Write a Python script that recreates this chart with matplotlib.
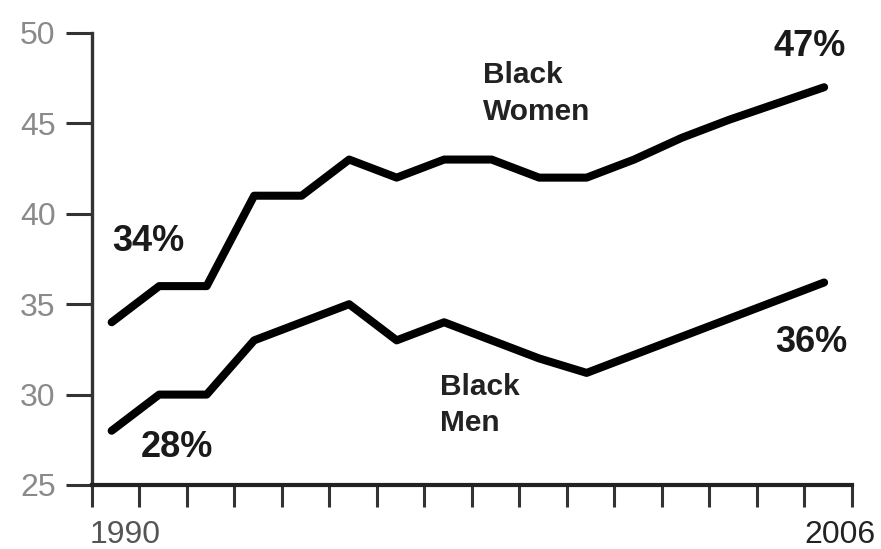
import matplotlib.pyplot as plt

# values, one point per year step
women = [34, 36, 36, 41, 41, 43, 42, 43, 43, 42, 42, 43, 44.2, 45.2, 46.1, 47]
men = [28, 30, 30, 33, 34, 35, 33, 34, 33, 32, 31.2, 32.2, 33.2, 34.2, 35.2, 36.2]
x = list(range(len(women)))

y_ticks = [25, 30, 35, 40, 45, 50]
n_xticks = 17
x_offset = 0.42  # tick marks sit a bit left of the data points

plt.rcParams['font.family'] = ['Liberation Sans', 'DejaVu Sans']

fig = plt.figure(figsize=(8.81, 5.49), dpi=100)
ax = fig.add_axes([0.1041, 0.1166, 0.8626, 0.8233])

ax.plot(x, women, color='black', lw=5.8, solid_joinstyle='round', solid_capstyle='round')
ax.plot(x, men, color='black', lw=5.8, solid_joinstyle='round', solid_capstyle='round')

ax.set_xlim(-x_offset, n_xticks - 1 - x_offset)
ax.set_ylim(25, 50)

ax.set_yticks(y_ticks)
ax.set_yticklabels([str(v) for v in y_ticks], fontsize=23, color='#8a8a8a')
ax.set_xticks([i - x_offset for i in range(n_xticks)])
ax.set_xticklabels([])

ax.tick_params(axis='y', direction='out', length=19, width=2.2, color='#333333', pad=7)
ax.tick_params(axis='x', direction='out', length=16, width=2.2, color='#333333')

for side in ['top', 'right']:
    ax.spines[side].set_visible(False)
ax.spines['left'].set_linewidth(2.4)
ax.spines['left'].set_color('#333333')
ax.spines['left'].set_bounds(25, 50)
ax.spines['bottom'].set_linewidth(3)
ax.spines['bottom'].set_color('#222222')

# year labels under the axis
ax.text(0.044, -0.11, '1990', transform=ax.transAxes, fontsize=23, color='#555555',
        ha='center', va='center', clip_on=False)
ax.text(0.985, -0.11, '2006', transform=ax.transAxes, fontsize=23, color='#222222',
        ha='center', va='center', clip_on=False)

# end labels
pct = dict(transform=ax.transAxes, fontsize=26, fontweight='bold', color='#1a1a1a',
           ha='left', va='center', clip_on=False)
ax.text(0.027, 0.538, '34%', **pct)
ax.text(0.065, 0.084, '28%', **pct)
ax.text(0.897, 0.971, '47%', **pct)
ax.text(0.899, 0.316, '36%', **pct)

# series labels
ax.text(0.515, 0.866, 'Black\nWomen', transform=ax.transAxes, fontsize=21.5,
        fontweight='bold', color='#222222', ha='left', va='center', linespacing=1.4)
ax.text(0.458, 0.177, 'Black\nMen', transform=ax.transAxes, fontsize=21.5,
        fontweight='bold', color='#222222', ha='left', va='center', linespacing=1.4)

fig.savefig('out.png', dpi=100)
